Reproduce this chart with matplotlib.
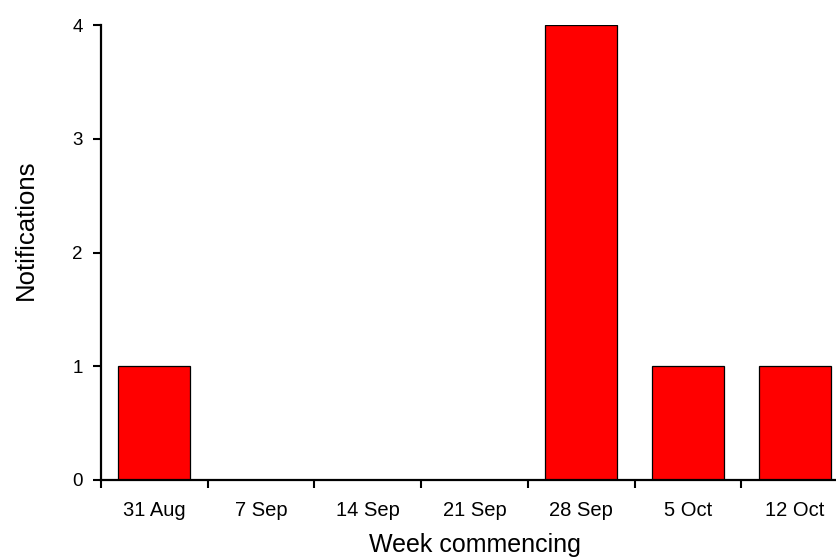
import numpy as np
import matplotlib.pyplot as plt

plt.rcParams['font.family'] = ['Liberation Sans', 'DejaVu Sans']

# --- Data ---
weeks = ['31 Aug', '7 Sep', '14 Sep', '21 Sep', '28 Sep', '5 Oct', '12 Oct']
notifications = [1, 0, 0, 0, 4, 1, 1]
y_ticks = [0, 1, 2, 3, 4]

fig = plt.figure(figsize=(8.37, 5.59), dpi=100)
ax = fig.add_axes([101 / 837, 1 - 480 / 559, 747 / 837, 455 / 559])

x = np.arange(len(weeks))
ax.bar(x, notifications, width=0.675, color='#ff0000',
       edgecolor='black', linewidth=0.9, zorder=2)

ax.set_xlim(-0.5, len(weeks) - 0.5)
ax.set_ylim(0, 4)

# major ticks at week boundaries, labels on minor ticks at the centres
ax.set_xticks(np.arange(-0.5, len(weeks), 1.0))
ax.set_xticklabels([])
ax.set_xticks(x, minor=True)
ax.set_xticklabels(weeks, minor=True)
ax.tick_params(axis='x', which='minor', length=0, pad=15, labelsize=14.5)
ax.tick_params(axis='x', which='major', length=6, width=1.5)

ax.set_yticks(y_ticks)
ax.tick_params(axis='y', length=6, width=1.5, pad=7, labelsize=13.5)

for side in ['top', 'right']:
    ax.spines[side].set_visible(False)
for side in ['left', 'bottom']:
    ax.spines[side].set_linewidth(1.6)
ax.spines['left'].set_zorder(3)
ax.spines['bottom'].set_zorder(3)

ax.set_xlabel('Week commencing', fontsize=18)
ax.set_ylabel('Notifications', fontsize=18.5)
ax.xaxis.set_label_coords(0.5, -0.117)
ax.yaxis.set_label_coords(-0.084, 0.55)

plt.savefig('out.png', dpi=100)
